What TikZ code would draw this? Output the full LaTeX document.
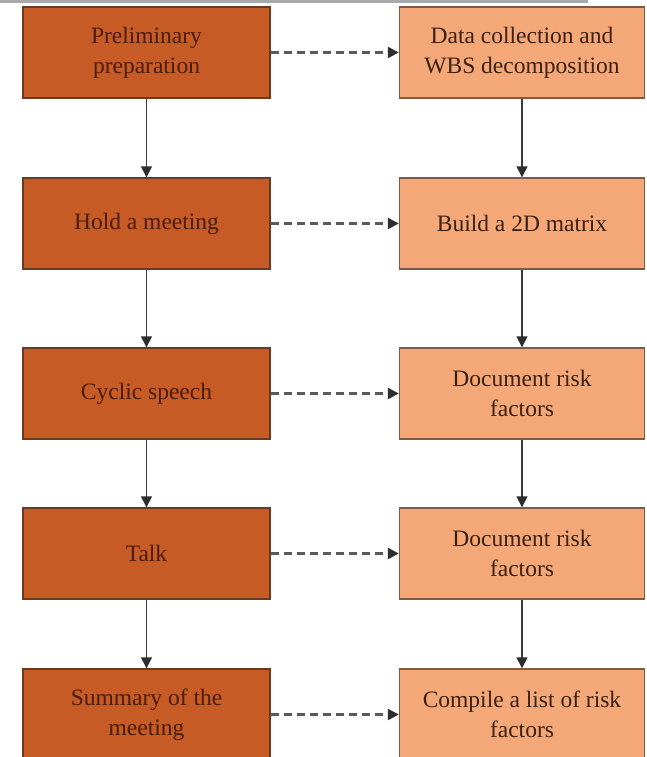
\documentclass[tikz,border=0pt]{standalone}
\usepackage{fontspec}
\setmainfont{Liberation Serif}
\usetikzlibrary{arrows.meta}
\definecolor{darkfill}{HTML}{C75B26}
\definecolor{darkedge}{HTML}{6B3A22}
\definecolor{lightfill}{HTML}{F5A877}
\definecolor{lightedge}{HTML}{7E5A44}
\definecolor{darktext}{HTML}{4A1C0A}
\definecolor{lighttext}{HTML}{3A2012}
\definecolor{linegray}{HTML}{3C3C3C}
\definecolor{dashgray}{HTML}{5A5A5A}
\definecolor{tipgray}{HTML}{2E2E2E}
\definecolor{topgray}{HTML}{A8A8A8}
\tikzset{
  basebox/.style={rectangle, minimum height=91pt, inner sep=0pt,
    line width=1.4pt, align=center, font=\fontsize{23.5}{30}\selectfont},
  leftbox/.style={basebox, minimum width=247pt, draw=darkedge, fill=darkfill, text=darktext},
  rightbox/.style={basebox, minimum width=245pt, draw=lightedge, fill=lightfill, text=lighttext},
  flowarrow/.style={draw=linegray, line width=1.4pt,
    -{Triangle[length=11pt,width=11pt,color=tipgray]}},
  dasharrow/.style={draw=dashgray, line width=2.4pt, dash pattern=on 8pt off 5pt,
    -{Triangle[length=11pt,width=11pt,color=tipgray]}},
}
\begin{document}
\begin{tikzpicture}[x=1pt,y=-1pt]
\useasboundingbox (0,0) rectangle (646,757);
\clip (0,0) rectangle (646,757);
\fill[white] (0,0) rectangle (646,757);
\coordinate (tl) at (0,1.5);
\coordinate (tr) at (588,1.5);
\draw[topgray, line width=3pt] (tl) -- (tr);

\node[leftbox] (L1) at (146.5,52.5) {Preliminary\\preparation};
\node[leftbox] (L2) at (146.5,223.5) {Hold a meeting};
\node[leftbox] (L3) at (146.5,393.5) {Cyclic speech};
\node[leftbox] (L4) at (146.5,553.5) {Talk};
\node[leftbox] (L5) at (146.5,714.5) {Summary of the\\meeting};

\node[rightbox] (R1) at (522,52.5) {Data collection and\\WBS decomposition};
\node[rightbox] (R2) at (522,223.5) {Build a 2D matrix};
\node[rightbox] (R3) at (522,393.5) {Document risk\\factors};
\node[rightbox] (R4) at (522,553.5) {Document risk\\factors};
\node[rightbox] (R5) at (522,714.5) {Compile a list of risk\\factors};

\foreach \a/\b in {L1/L2,L2/L3,L3/L4,L4/L5,R1/R2,R2/R3,R3/R4,R4/R5}
  \draw[flowarrow] (\a.south) -- (\b.north);
\foreach \i in {1,...,5}
  \draw[dasharrow] (L\i.east) -- (R\i.west);
\end{tikzpicture}
\end{document}
